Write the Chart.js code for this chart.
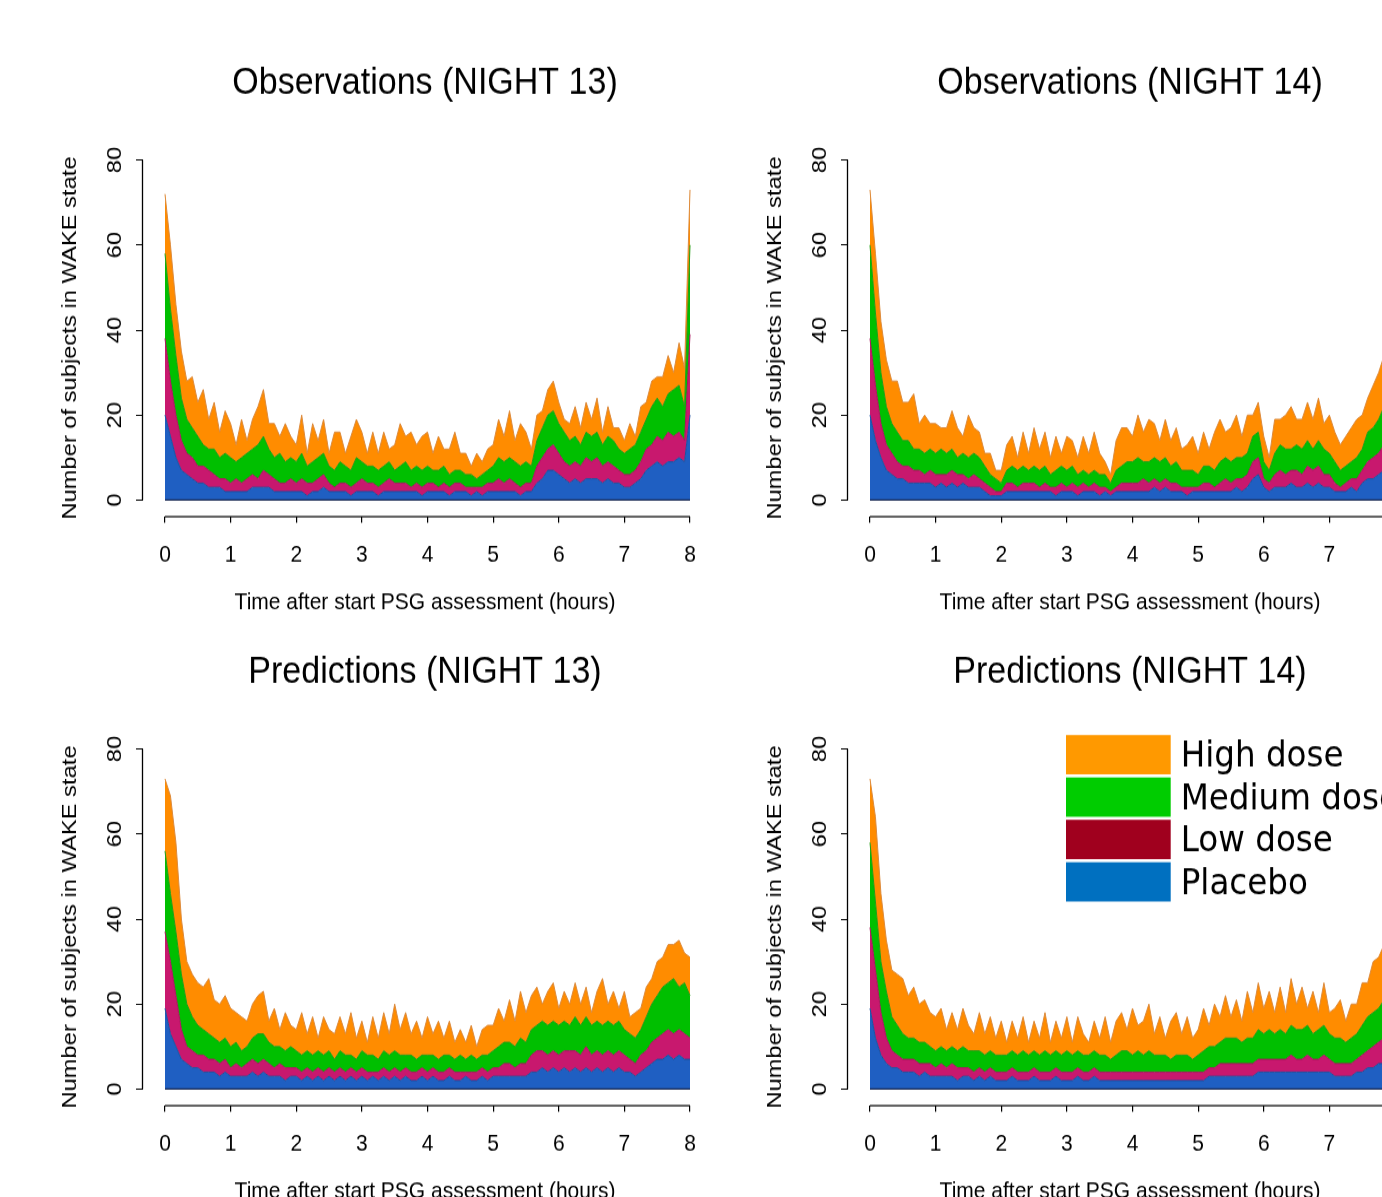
<!DOCTYPE html>
<html>
<head>
<meta charset="utf-8">
<title>Subjects in WAKE state</title>
<script src="https://cdn.jsdelivr.net/npm/chart.js@4.4.1/dist/chart.umd.min.js"></script>
<style>
  html, body { margin: 0; padding: 0; overflow: hidden; background: #fff; }
  body { width: 1382px; height: 1197px; position: relative; }
  canvas.panel { position: absolute; }
  #obs13 { left: 0; top: 0; }
  #obs14 { left: 705px; top: 0; }
  #pred13 { left: 0; top: 589px; }
  #pred14 { left: 705px; top: 589px; }
</style>
</head>
<body>
<!-- the original figure is stretched vertically, so the canvases are too (553 -> 624.89) -->
<canvas id="obs13" class="panel" width="712" height="553" style="width:712px;height:624.89px"></canvas>
<canvas id="obs14" class="panel" width="712" height="553" style="width:712px;height:624.89px"></canvas>
<canvas id="pred13" class="panel" width="712" height="553" style="width:712px;height:624.89px"></canvas>
<canvas id="pred14" class="panel" width="712" height="553" style="width:712px;height:624.89px"></canvas>
<script>
// time after start of PSG (minutes), one value every 5 minutes
var minutes = [0,5,10,15,20,25,30,35,40,45,50,55,60,65,70,75,80,85,90,95,100,105,110,115,
  120,125,130,135,140,145,150,155,160,165,170,175,180,185,190,195,200,205,210,215,220,225,230,235,
  240,245,250,255,260,265,270,275,280,285,290,295,300,305,310,315,320,325,330,335,340,345,350,355,
  360,365,370,375,380,385,390,395,400,405,410,415,420,425,430,435,440,445,450,455,460,465,470,475,480];
var xTicks = [0,1,2,3,4,5,6,7,8];
var yTicks = [0,20,40,60,80];
var xTitle = 'Time after start PSG assessment (hours)';
var yTitle = 'Number of subjects in WAKE state';

var doseLabels = ['Placebo', 'Low dose', 'Medium dose', 'High dose'];
var doseFill = ['#1f5fc2', '#c8186e', '#00bf00', '#ff8c00'];
var doseEdge = ['#1a4f9f', '#a8145c', '#229c12', '#dc8a3c'];
var legendColors = ['#0070c0', '#a0001e', '#00cc00', '#ff9900'];

// Observations night 13
var obs13Placebo = [20,15,10,7,6,5,4,4,3,3,3,2, 2,2,2,2,3,3,3,3,2,2,2,2, 2,2,1,2,2,3,2,2,2,2,1,2,
  2,2,2,1,2,2,2,2,2,2,2,1, 2,2,2,2,1,2,2,2,1,2,1,2, 2,2,2,2,2,1,2,2,4,5,7,7,
  6,5,4,5,4,5,5,5,4,5,4,4, 3,3,4,5,7,8,9,8,9,9,10,9, 20];
var obs13Low = [18,13,10,7,5,5,4,4,4,3,2,3, 2,3,2,3,3,2,4,3,3,2,2,3, 2,3,3,2,3,3,2,1,2,2,2,2,
  3,2,2,2,2,3,2,2,2,1,2,2, 2,2,1,2,2,2,2,1,2,1,2,2, 2,3,2,3,2,2,2,2,4,5,5,6,
  5,4,4,4,4,5,4,5,4,4,4,3, 3,3,3,4,5,5,6,6,7,6,6,5, 19];
var obs13Medium = [20,17,14,10,8,7,7,5,5,6,5,6, 6,4,6,6,6,8,8,6,5,7,5,5, 5,6,4,5,5,5,4,4,5,4,4,6,
  4,4,4,4,4,4,3,4,5,4,4,4, 4,3,4,4,3,3,3,3,3,2,3,3, 4,5,5,5,5,5,5,4,6,7,8,8,
  7,7,6,6,5,6,6,6,5,6,6,5, 5,6,6,7,7,9,9,8,9,11,11,8, 21];
var obs13High = [14,15,12,11,9,12,8,13,7,11,6,10, 8,4,9,3,7,9,11,6,8,4,9,5, 4,9,3,9,4,8,3,9,7,3,8,9,
  7,3,8,4,8,3,6,10,6,9,5,8, 8,4,8,4,6,9,4,5,2,6,3,5, 5,9,6,11,5,10,7,4,6,4,6,7,
  5,3,4,7,4,7,4,8,3,7,3,5, 3,6,2,6,4,6,5,7,9,4,10,9, 13];

// Observations night 14
var obs14Placebo = [20,14,10,7,6,5,5,4,4,4,4,4, 3,4,3,4,3,4,3,3,3,2,1,1, 1,2,2,2,2,2,2,2,2,2,1,2,
  2,2,1,2,2,2,1,2,1,2,2,2, 2,2,2,2,3,2,3,2,2,2,1,2, 2,2,2,2,2,2,2,3,2,3,5,6,
  3,2,3,3,3,4,3,3,4,3,4,3, 3,2,2,2,3,2,4,5,5,6,7,8, 9];
var obs14Low = [18,13,8,6,5,4,3,4,3,3,2,3, 3,2,3,3,3,2,2,3,2,2,2,1, 1,2,2,1,2,2,2,1,2,1,2,2,
  1,2,2,2,1,2,2,1,1,1,2,2, 2,2,3,2,2,2,2,2,2,1,2,1, 1,2,2,1,2,3,2,2,3,3,4,4,
  2,2,3,4,3,3,4,3,4,4,4,3, 3,2,1,2,2,3,3,4,5,5,6,7, 8];
var obs14Medium = [22,17,12,9,7,7,6,6,5,5,5,5, 5,6,5,5,4,5,5,5,5,4,3,3, 2,3,4,4,4,3,4,4,4,3,4,4,
  4,4,3,3,3,3,3,3,2,4,4,5, 5,6,4,5,5,5,5,4,5,4,4,4, 3,4,4,4,5,5,5,5,5,5,6,6,
  4,3,5,6,6,5,6,6,6,5,6,6, 5,5,4,4,4,5,5,7,7,8,9,10, 11];
var obs14High = [13,14,12,11,10,12,9,9,13,6,9,6, 7,5,6,9,7,4,10,6,6,3,5,2, 3,6,7,3,8,4,9,5,8,4,8,3,
  8,6,4,8,5,9,5,3,2,7,9,8, 6,10,7,10,8,5,9,6,8,5,6,8, 5,8,4,9,10,6,8,10,5,9,5,7,
  6,3,8,6,8,10,6,7,9,7,10,6, 9,7,6,7,8,9,8,8,10,11,12,12, 12];

// Predictions night 13
var pred13Placebo = [19,13,10,7,6,5,5,4,4,4,3,4, 3,3,3,3,4,3,4,3,3,3,2,3, 3,2,3,2,3,2,3,2,3,2,3,2,
  3,2,3,2,3,2,3,2,3,2,2,3, 2,3,2,2,3,2,2,3,2,2,3,2, 3,3,3,3,3,3,3,4,4,5,4,5,
  4,5,4,5,4,5,4,5,4,5,4,5, 4,4,3,4,5,6,7,7,8,7,8,7, 7];
var pred13Low = [18,17,12,7,4,4,3,4,3,3,3,3, 2,3,2,3,3,3,3,3,2,3,3,2, 2,2,2,2,2,2,2,2,2,2,2,2,
  2,2,1,2,2,2,2,2,2,2,2,2, 2,2,2,2,2,2,2,1,2,2,2,2, 2,2,3,3,2,3,3,4,5,4,4,4,
  4,4,5,4,4,5,4,4,4,4,4,4, 4,3,3,4,4,5,5,6,6,6,6,6, 5];
var pred13Medium = [19,16,15,13,10,8,7,6,6,5,5,5, 5,5,4,4,5,7,6,5,5,4,4,5, 4,4,4,4,4,4,4,3,4,4,3,3,
  4,4,4,3,4,4,4,4,3,4,3,3, 4,3,3,4,3,3,4,3,4,3,3,4, 4,5,5,5,5,6,5,6,6,7,7,7,
  7,7,6,8,7,7,7,7,7,7,7,7, 6,6,6,6,8,9,10,11,11,13,10,12, 10];
var pred13High = [17,23,21,13,10,10,10,10,13,9,9,10, 9,7,8,6,8,9,10,5,9,4,9,5, 5,10,4,9,3,9,5,6,8,5,10,5,
  7,3,9,5,9,5,11,6,10,5,9,4, 9,5,9,4,8,4,6,4,7,3,6,7, 6,9,5,10,6,11,7,8,9,4,8,9,
  4,7,5,8,5,7,3,7,11,4,8,3, 9,4,6,5,7,6,8,7,9,8,11,7, 9];

// Predictions night 14
var pred14Placebo = [19,12,8,6,5,5,4,4,4,3,4,3, 3,3,3,3,2,3,3,2,3,2,3,2, 2,2,3,2,2,2,3,2,2,2,3,2,
  2,2,3,2,2,3,2,2,2,2,2,2, 2,2,2,2,2,2,2,2,2,2,2,2, 2,2,3,3,3,3,3,3,3,3,3,4,
  4,4,4,4,4,4,4,4,4,4,4,4, 4,3,3,3,3,4,4,5,5,6,6,7, 7];
var pred14Low = [19,16,10,6,4,3,3,3,3,3,2,3, 2,3,2,3,3,2,2,2,2,2,2,2, 2,2,2,2,2,2,2,2,2,2,2,2,
  2,2,2,2,2,2,2,2,2,2,2,2, 2,2,2,2,2,2,2,2,2,2,2,2, 2,2,2,2,3,3,3,3,3,3,3,3,
  3,3,3,3,3,4,3,3,4,3,3,4, 3,3,3,3,3,3,4,4,5,5,6,6, 6];
var pred14Medium = [20,16,12,11,8,7,6,5,5,5,5,4, 4,4,4,4,4,5,4,5,4,4,4,4, 4,4,4,4,5,4,4,4,5,4,4,4,
  5,4,4,4,4,4,4,4,3,4,5,5, 4,5,4,5,4,4,4,3,4,4,4,3, 4,5,5,5,5,6,6,6,5,6,6,7,
  6,7,6,7,6,7,7,7,7,6,7,7, 6,6,6,5,6,6,7,8,8,8,9,9, 10];
var pred14High = [15,20,16,12,11,12,13,10,12,9,10,8, 8,9,5,8,5,9,6,4,9,5,8,4, 8,3,7,4,8,3,7,4,9,3,7,4,
  8,3,8,5,3,7,4,9,4,8,9,5, 11,6,8,11,5,9,4,9,10,5,9,5, 6,10,5,10,6,10,5,9,5,11,6,11,
  6,9,5,10,5,11,6,10,4,10,4,10, 5,7,9,5,8,7,10,8,12,12,13,11, 12];

Chart.defaults.font.family = '"Liberation Sans", Arial, sans-serif';
Chart.defaults.color = '#000';

// R style axes: the line only runs from the first to the last tick
var axisLines = {
  id: 'axisLines',
  afterDraw: function (chart) {
    var ctx = chart.ctx, xs = chart.scales.x, ys = chart.scales.y, a = chart.chartArea;
    ctx.save();
    ctx.strokeStyle = '#000';
    ctx.lineWidth = 1.3;
    ctx.beginPath();
    ctx.moveTo(xs.getPixelForValue(xTicks[0]), a.bottom + 0.5);
    ctx.lineTo(xs.getPixelForValue(xTicks[xTicks.length - 1]), a.bottom + 0.5);
    ctx.moveTo(a.left - 0.5, ys.getPixelForValue(yTicks[0]));
    ctx.lineTo(a.left - 0.5, ys.getPixelForValue(yTicks[yTicks.length - 1]));
    ctx.stroke();
    // dark edge under the stacked areas
    ctx.strokeStyle = '#1c2d55';
    ctx.lineWidth = 1.2;
    ctx.beginPath();
    ctx.moveTo(xs.getPixelForValue(0), ys.getPixelForValue(0));
    ctx.lineTo(xs.getPixelForValue(8), ys.getPixelForValue(0));
    ctx.stroke();
    ctx.restore();
  }
};

// legend boxes inside the last panel
var boxLegend = {
  id: 'boxLegend',
  afterDraw: function (chart) {
    var ctx = chart.ctx;
    ctx.save();
    ctx.font = '32.6px "DejaVu Sans", Verdana, sans-serif';
    ctx.textBaseline = 'alphabetic';
    ctx.textAlign = 'left';
    for (var row = 0; row < doseLabels.length; row++) {
      var k = doseLabels.length - 1 - row;
      var top = 129.2 + row * 37.5;
      ctx.fillStyle = legendColors[k];
      ctx.fillRect(361, top, 104.7, 34.8);
      ctx.fillStyle = '#000';
      ctx.fillText(doseLabels[k], 475.7, top + 28);
    }
    ctx.restore();
  }
};

function printPanel(canvasId, titleText, series, extra) {
  var datasets = series.map(function (values, k) {
    return {
      label: doseLabels[k],
      data: values.map(function (v, i) { return {x: minutes[i] / 60, y: v}; }),
      fill: k === 0 ? 'origin' : '-1',
      backgroundColor: doseFill[k],
      borderColor: doseEdge[k],
      borderWidth: 1,
      pointRadius: 0,
      tension: 0
    };
  });
  return new Chart(document.getElementById(canvasId), {
    type: 'line',
    data: {datasets: datasets},
    options: {
      responsive: false,
      animation: false,
      devicePixelRatio: 1,
      events: [],
      layout: {padding: {top: 20, left: 30, right: 5, bottom: 7}},
      plugins: {
        legend: {display: false},
        tooltip: {enabled: false},
        title: {
          display: true, text: titleText, fullSize: false, color: '#000',
          font: {size: 34, weight: 'normal'}, padding: {top: 33.1, bottom: 47.7}
        }
      },
      scales: {
        x: {
          type: 'linear', min: -0.3352, max: 8.259,
          afterBuildTicks: function (s) { s.ticks = xTicks.map(function (v) { return {value: v}; }); },
          afterFit: function (s) { s.height = 89.4; },
          grid: {drawOnChartArea: false, tickLength: 6, color: '#000', lineWidth: 1.2},
          border: {display: false},
          ticks: {font: {size: 21}, padding: 16, maxRotation: 0, autoSkip: false},
          title: {display: true, text: xTitle, font: {size: 21}, padding: {top: 0, bottom: 0}}
        },
        y: {
          stacked: true, min: -3.765, max: 80,
          afterBuildTicks: function (s) { s.ticks = yTicks.map(function (v) { return {value: v}; }); },
          afterFit: function (s) { s.width = 113; },
          grid: {drawOnChartArea: false, tickLength: 7, color: '#000'},
          border: {display: false},
          ticks: {font: {size: 21}, minRotation: 90, maxRotation: 90, crossAlign: 'center', padding: 9.3, autoSkip: false},
          title: {display: true, text: yTitle, font: {size: 21}, padding: {top: 27.4, bottom: 0}}
        }
      }
    },
    plugins: [axisLines].concat(extra || [])
  });
}

printPanel('obs13', 'Observations (NIGHT 13)', [obs13Placebo, obs13Low, obs13Medium, obs13High]);
printPanel('obs14', 'Observations (NIGHT 14)', [obs14Placebo, obs14Low, obs14Medium, obs14High]);
printPanel('pred13', 'Predictions (NIGHT 13)', [pred13Placebo, pred13Low, pred13Medium, pred13High]);
printPanel('pred14', 'Predictions (NIGHT 14)', [pred14Placebo, pred14Low, pred14Medium, pred14High], [boxLegend]);
</script>
</body>
</html>
